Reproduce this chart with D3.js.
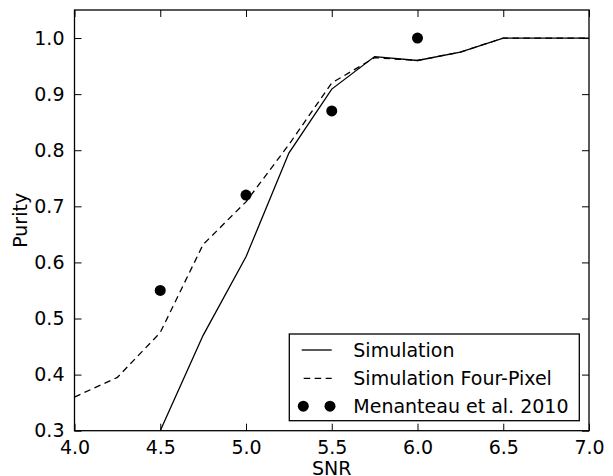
<!DOCTYPE html>
<html>
  <head>
    <script src="https://d3js.org/d3.v7.min.js"></script>
    <style>
      body { margin: 0; background: #fff; }
      text { font-family: "DejaVu Sans", sans-serif; }
    </style>
  </head>
  <body>
    <svg width="613" height="476" id="mainsvg"></svg>
    <script>
        // data
        const snr = [4.0, 4.25, 4.5, 4.75, 5.0, 5.25, 5.5, 5.75, 6.0, 6.25, 6.5, 6.75, 7.0];
        const simulation = [null, null, 0.30, 0.47, 0.61, 0.795, 0.909, 0.967, 0.96, 0.975, 1.0, 1.0, 1.0];
        const fourPixel = [0.36, 0.395, 0.475, 0.632, 0.708, 0.81, 0.92, 0.965, 0.96, 0.975, 1.0, 1.0, 1.0];
        const menSnr = [4.5, 5.0, 5.5, 6.0];
        const menPurity = [0.55, 0.72, 0.87, 1.0];
        const xTicks = [4.0, 4.5, 5.0, 5.5, 6.0, 6.5, 7.0];
        const yTicks = [0.3, 0.4, 0.5, 0.6, 0.7, 0.8, 0.9, 1.0];
        const legendLabels = ['Simulation', 'Simulation Four-Pixel', 'Menanteau et al. 2010'];

        const svg = d3.select('#mainsvg');
        const margin = {top: 10, right: 24, bottom: 45.3, left: 74.5};
        const width = +svg.attr('width');
        const height = +svg.attr('height');
        const innerWidth = width - margin.left - margin.right;
        const innerHeight = height - margin.top - margin.bottom;
        const fs = '19px';

        const xScale = d3.scaleLinear().domain([4.0, 7.0]).range([0, innerWidth]);
        const yScale = d3.scaleLinear().domain([0.3, 1.05]).range([innerHeight, 0]);

        const g = svg.append('g').attr('transform', `translate(${margin.left}, ${margin.top})`);

        svg.append('defs').append('clipPath').attr('id', 'clip')
          .append('rect').attr('width', innerWidth).attr('height', innerHeight);

        const plot = g.append('g').attr('clip-path', 'url(#clip)');

        const line = d3.line()
          .defined(d => d[1] !== null)
          .x(d => xScale(d[0]))
          .y(d => yScale(d[1]));

        plot.append('path')
          .datum(snr.map((s, i) => [s, simulation[i]]))
          .attr('d', line)
          .attr('fill', 'none').attr('stroke', '#000').attr('stroke-width', 1.3);

        plot.append('path')
          .datum(snr.map((s, i) => [s, fourPixel[i]]))
          .attr('d', line)
          .attr('fill', 'none').attr('stroke', '#000').attr('stroke-width', 1.3)
          .attr('stroke-dasharray', '6.5,4.5');

        g.selectAll('circle.men').data(menSnr).enter().append('circle')
          .attr('class', 'men')
          .attr('cx', d => xScale(d))
          .attr('cy', (d, i) => yScale(menPurity[i]))
          .attr('r', 5.5)
          .attr('fill', '#000');

        // axes: ticks inward on all four sides
        const tickLen = 7;
        const xAxis = d3.axisBottom(xScale).tickValues(xTicks).tickFormat(d3.format('.1f'))
          .tickSizeInner(-tickLen).tickSizeOuter(0).tickPadding(tickLen + 3);
        const yAxis = d3.axisLeft(yScale).tickValues(yTicks).tickFormat(d3.format('.1f'))
          .tickSizeInner(-tickLen).tickSizeOuter(0).tickPadding(tickLen + 3);
        const xTop = d3.axisTop(xScale).tickValues(xTicks).tickFormat('').tickSizeInner(-tickLen).tickSizeOuter(0);
        const yRight = d3.axisRight(yScale).tickValues(yTicks).tickFormat('').tickSizeInner(-tickLen).tickSizeOuter(0);

        const axes = [
          g.append('g').attr('transform', `translate(0, ${innerHeight})`).call(xAxis),
          g.append('g').call(yAxis),
          g.append('g').call(xTop),
          g.append('g').attr('transform', `translate(${innerWidth}, 0)`).call(yRight)
        ];
        axes.forEach(a => {
          a.selectAll('.domain').remove();
          a.selectAll('line').attr('stroke', '#000').attr('stroke-width', 1);
          a.selectAll('text').attr('font-size', fs).attr('fill', '#000')
            .attr('font-family', '"DejaVu Sans", sans-serif');
        });

        g.append('rect')
          .attr('width', innerWidth).attr('height', innerHeight)
          .attr('fill', 'none').attr('stroke', '#000').attr('stroke-width', 1.3);

        // axis labels
        svg.append('text')
          .attr('x', margin.left + innerWidth / 2).attr('y', 475)
          .attr('text-anchor', 'middle').attr('font-size', fs).text('SNR');
        svg.append('text')
          .attr('transform', `translate(27, ${margin.top + innerHeight / 2}) rotate(-90)`)
          .attr('text-anchor', 'middle').attr('font-size', fs).text('Purity');

        // legend
        const lg = svg.append('g').attr('transform', 'translate(289.3, 334)');
        lg.append('rect').attr('width', 290).attr('height', 86.7)
          .attr('fill', '#fff').attr('stroke', '#000').attr('stroke-width', 1.3);
        const rowY = [16, 44.3, 72.2];
        lg.append('line').attr('x1', 12.4).attr('x2', 42.4).attr('y1', rowY[0]).attr('y2', rowY[0])
          .attr('stroke', '#000').attr('stroke-width', 1.3);
        lg.append('line').attr('x1', 12.4).attr('x2', 42.4).attr('y1', rowY[1]).attr('y2', rowY[1])
          .attr('stroke', '#000').attr('stroke-width', 1.3).attr('stroke-dasharray', '6.5,4.5')
          .attr('stroke-dashoffset', -2);
        [14, 40.7].forEach(cx => {
          lg.append('circle').attr('cx', cx).attr('cy', rowY[2]).attr('r', 5.5).attr('fill', '#000');
        });
        legendLabels.forEach((t, i) => {
          lg.append('text').attr('x', 64).attr('y', rowY[i]).attr('dy', '0.36em')
            .attr('font-size', fs).text(t);
        });
    </script>
  </body>
</html>
